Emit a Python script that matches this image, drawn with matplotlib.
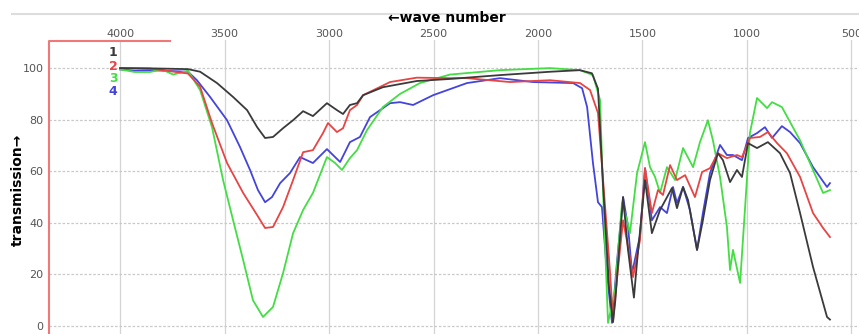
import matplotlib
matplotlib.use('Agg')
import matplotlib.pyplot as plt
from matplotlib.lines import Line2D

# sample 1 (black)
wn_1 = [4000, 3856, 3675, 3617, 3536, 3459, 3392, 3344, 3306, 3268, 3220, 3172,
        3124, 3077, 3010, 2962, 2933, 2900, 2866, 2837, 2742, 2580, 2420, 2180,
        1940, 1800, 1742, 1713, 1689, 1660, 1641, 1630, 1593, 1570, 1541, 1526,
        1488, 1455, 1416, 1359, 1335, 1306, 1282, 1239, 1211, 1177, 1139, 1115,
        1081, 1048, 1024, 995, 952, 900, 842, 794, 746, 684, 617, 603]
tr_1 = [100, 99.9, 99.6, 98.6, 94.2, 88.8, 83.7, 77.1, 72.9, 73.3, 76.7, 79.8,
        83.3, 81.4, 86.4, 83.7, 82.2, 85.7, 86.4, 89.5, 92.6, 95.0, 95.8, 97.3,
        98.6, 99.2, 98.0, 92.0, 55.0, 15.0, 1.5, 10.0, 50.0, 30.0, 11.0, 25.0,
        56.6, 36.0, 45.0, 53.5, 45.7, 53.9, 48.8, 29.5, 41.0, 56.6, 67.0, 64.3,
        55.8, 60.5, 57.8, 70.9, 69.0, 71.3, 67.0, 59.3, 43.8, 22.9, 3.5, 2.5]

# sample 2 (red)
wn_2 = [4000, 3856, 3675, 3617, 3560, 3488, 3411, 3344, 3306, 3268, 3220, 3172,
        3124, 3077, 3029, 3005, 2962, 2933, 2900, 2866, 2837, 2708, 2580, 2420,
        2340, 2134, 1942, 1799, 1751, 1713, 1703, 1655, 1641, 1620, 1593, 1569,
        1545, 1512, 1488, 1455, 1426, 1402, 1368, 1335, 1296, 1249, 1215, 1177,
        1139, 1096, 1048, 1024, 986, 938, 900, 856, 809, 746, 684, 636, 603]
tr_2 = [100, 99.8, 97.9, 92.8, 78.7, 63.2, 51.6, 43.0, 38.0, 38.4, 46.1, 56.6,
        67.4, 68.2, 74.8, 78.7, 75.2, 76.7, 83.7, 85.7, 89.5, 94.6, 96.3, 96.1,
        96.1, 94.6, 95.3, 94.2, 91.5, 82.6, 72.0, 20.5, 2.3, 20.0, 41.0, 30.6,
        19.0, 33.3, 61.2, 43.8, 52.7, 50.8, 62.4, 56.6, 58.5, 50.0, 59.7, 61.2,
        67.0, 65.1, 66.3, 65.5, 72.9, 73.3, 75.2, 70.9, 67.0, 57.8, 43.8, 38.0, 34.5]

# sample 3 (green)
wn_3 = [4000, 3930, 3856, 3800, 3746, 3675, 3617, 3560, 3507, 3459, 3411, 3364,
        3316, 3268, 3220, 3172, 3124, 3077, 3010, 2971, 2938, 2900, 2866, 2818,
        2742, 2660, 2565, 2421, 2182, 1942, 1799, 1737, 1703, 1689, 1665, 1631,
        1598, 1574, 1560, 1526, 1488, 1464, 1440, 1416, 1383, 1344, 1306, 1258,
        1225, 1187, 1163, 1129, 1096, 1081, 1067, 1033, 1009, 986, 952, 904,
        880, 833, 794, 746, 684, 636, 603]
tr_3 = [99.5, 98.5, 98.5, 99.5, 97.5, 99.0, 91.5, 77.1, 56.6, 41.0, 25.6, 10.0,
        3.5, 7.4, 20.5, 36.0, 45.0, 51.6, 65.5, 63.2, 60.5, 65.1, 68.2, 76.0,
        84.9, 90.0, 94.2, 97.5, 99.2, 100, 99.2, 97.3, 87.6, 52.7, 1.2, 14.0,
        47.7, 41.0, 36.0, 59.3, 71.3, 61.6, 57.8, 51.6, 61.6, 56.6, 69.0, 61.6,
        71.3, 79.8, 72.0, 57.8, 38.4, 21.7, 29.5, 16.7, 46.1, 74.8, 88.4, 84.5,
        86.8, 84.9, 79.1, 72.0, 60.5, 51.6, 52.7]

# sample 4 (blue)
wn_4 = [4000, 3930, 3856, 3675, 3632, 3569, 3488, 3426, 3378, 3340, 3306, 3273,
        3234, 3187, 3139, 3077, 3010, 2947, 2900, 2852, 2804, 2708, 2660, 2598,
        2502, 2340, 2182, 2024, 1832, 1789, 1765, 1737, 1713, 1694, 1670, 1646,
        1622, 1593, 1569, 1550, 1512, 1488, 1455, 1416, 1383, 1354, 1335, 1306,
        1273, 1239, 1211, 1177, 1129, 1096, 1067, 1024, 995, 952, 914, 880,
        833, 794, 746, 684, 651, 617, 603]
tr_4 = [99.5, 99.0, 99.2, 98.6, 95.3, 88.8, 79.8, 69.4, 60.5, 52.7, 48.0, 50.0,
        55.4, 59.3, 65.5, 63.2, 68.6, 63.6, 71.3, 73.3, 81.0, 86.4, 86.8, 85.7,
        89.5, 94.2, 96.1, 94.6, 94.2, 92.2, 84.9, 63.2, 48.0, 46.1, 20.5, 1.2,
        25.0, 50.0, 38.4, 20.5, 35.0, 61.2, 41.0, 46.1, 43.8, 53.9, 47.7, 53.9,
        45.0, 29.5, 43.8, 59.3, 70.2, 66.3, 66.3, 64.3, 72.9, 74.8, 77.1, 72.9,
        77.5, 75.2, 70.9, 61.6, 57.8, 53.9, 55.4]

x_ticks = [4000, 3500, 3000, 2500, 2000, 1500, 1000, 500]
y_ticks = [0, 20, 40, 60, 80, 100]
labels = ['1', '2', '3', '4']
colors = ['#3a3a3a', '#e84444', '#44dd44', '#4444dd']

W, H = 859, 334
fig = plt.figure(figsize=(W / 100, H / 100), dpi=100)
ax = fig.add_axes([49 / W, 0, 810 / W, (H - 40) / H])

series = [(wn_4, tr_4, colors[3]), (wn_3, tr_3, colors[2]),
          (wn_2, tr_2, colors[1]), (wn_1, tr_1, colors[0])]
for wn, tr, c in series:
    ax.plot(wn, tr, color=c, lw=1.3)

ax.set_xlim(4340, 464)
ax.set_ylim(-3.1, 110.9)
ax.set_xticks(x_ticks)
ax.set_yticks(y_ticks)
ax.xaxis.tick_top()
ax.tick_params(axis='x', length=0, pad=1, labelsize=8, labelcolor='#555555')
ax.tick_params(axis='y', length=0, pad=4, labelsize=8, labelcolor='#555555')

ax.xaxis.grid(True, color='#d4d4d4', lw=0.9, ls='-')
ax.yaxis.grid(True, color='#c8c8c8', lw=0.9, ls=(0, (2, 1.5)))
ax.set_axisbelow(True)
for s in ax.spines.values():
    s.set_visible(False)

# frame lines: grey top rule and red box edge
fig.add_artist(Line2D([12 / W, 1], [1 - 14 / H, 1 - 14 / H],
                      color='#dddddd', lw=1.5, transform=fig.transFigure))
fig.add_artist(Line2D([49 / W, 49 / W, 170 / W], [0, 1 - 41 / H, 1 - 41 / H],
                      color='#f07878', lw=1.5, transform=fig.transFigure))

fig.text(447 / W, 1 - 18 / H, '←wave number', ha='center', va='center',
         fontsize=10, fontweight='bold')
fig.text(18 / W, 1 - 190 / H, 'transmission→', ha='center', va='center',
         rotation=90, fontsize=10, fontweight='bold')

for i, (lab, c) in enumerate(zip(labels, colors)):
    fig.text(113 / W, 1 - (53 + i * 13) / H, lab, color=c, ha='center',
             va='center', fontsize=9, fontweight='bold')

fig.savefig('out.png', dpi=100)
